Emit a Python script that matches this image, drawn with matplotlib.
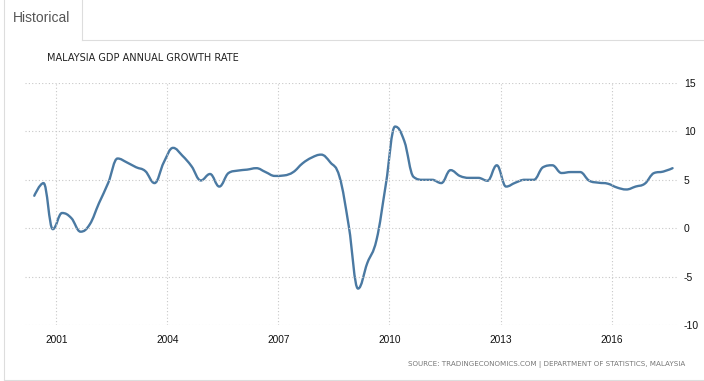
import numpy as np
import matplotlib
matplotlib.use('Agg')
import matplotlib.pyplot as plt
from matplotlib.path import Path
from matplotlib.patches import PathPatch
from matplotlib.lines import Line2D

# ------------------------
# data (quarterly)
# ------------------------
start_year = 2000.40
step = 0.25
growth = [3.35, 4.66, -0.1, 1.57, 1.05, -0.36, 0.4, 2.6, 4.7, 7.2,
          6.8, 6.3, 5.9, 4.66, 6.8, 8.3, 7.5, 6.4, 4.93, 5.6,
          4.3, 5.7, 5.95, 6.05, 6.2, 5.8, 5.4, 5.45, 5.8, 6.7,
          7.3, 7.6, 6.8, 5.3, 0.2, -6.24, -3.6, -1.2, 4.5, 10.5,
          9.0, 5.3, 5.0, 5.0, 4.66, 6.0, 5.4, 5.2, 5.2, 4.9,
          6.5, 4.3, 4.7, 5.0, 5.0, 6.3, 6.5, 5.7, 5.8, 5.8,
          4.9, 4.7, 4.6, 4.2, 4.0, 4.3, 4.6, 5.7, 5.85, 6.2]
dates = start_year + step * np.arange(len(growth))

xticks = [2001, 2004, 2007, 2010, 2013, 2016]
yticks = [-10, -5, 0, 5, 10, 15]

title = 'MALAYSIA GDP ANNUAL GROWTH RATE'
source = 'SOURCE: TRADINGECONOMICS.COM | DEPARTMENT OF STATISTICS, MALAYSIA'
line_color = '#4a79a2'
grid_color = '#c8c8c8'


def spline_path(x, y, smoothing=1.5):
    # highcharts-like smooth curve through every point (cubic bezier segments)
    n = len(x)
    lc = [(x[i], y[i]) for i in range(n)]
    rc = [(x[i], y[i]) for i in range(n)]
    d = smoothing + 1
    for i in range(1, n - 1):
        lx = (smoothing * x[i] + x[i - 1]) / d
        ly = (smoothing * y[i] + y[i - 1]) / d
        rx = (smoothing * x[i] + x[i + 1]) / d
        ry = (smoothing * y[i] + y[i + 1]) / d
        if rx != lx:
            corr = (ry - ly) * (rx - x[i]) / (rx - lx) + y[i] - ry
            ly += corr
            ry += corr
        if ly > max(y[i - 1], y[i]):
            ly = max(y[i - 1], y[i]); ry = 2 * y[i] - ly
        elif ly < min(y[i - 1], y[i]):
            ly = min(y[i - 1], y[i]); ry = 2 * y[i] - ly
        if ry > max(y[i], y[i + 1]):
            ry = max(y[i], y[i + 1]); ly = 2 * y[i] - ry
        elif ry < min(y[i], y[i + 1]):
            ry = min(y[i], y[i + 1]); ly = 2 * y[i] - ry
        lc[i] = (lx, ly)
        rc[i] = (rx, ry)
    verts = [(x[0], y[0])]
    codes = [Path.MOVETO]
    for i in range(1, n):
        verts += [rc[i - 1], lc[i], (x[i], y[i])]
        codes += [Path.CURVE4] * 3
    return Path(verts, codes)


fig = plt.figure(figsize=(7.04, 3.81), dpi=100)
ax = fig.add_axes([25 / 704, 1 - 325 / 381, 652 / 704, 242 / 381])

path = spline_path(list(dates), list(growth))
ax.add_patch(PathPatch(path, facecolor='none', edgecolor=line_color,
                       linewidth=1.7, capstyle='round', joinstyle='round'))

ax.set_xlim(2000.149, 2017.77)
ax.set_ylim(-10, 15)
ax.set_xticks(xticks)
ax.set_yticks(yticks)
ax.set_xticklabels([str(t) for t in xticks], fontsize=7.3, family='Liberation Sans')
ax.set_yticklabels([str(t) for t in yticks], fontsize=7.5, family='Liberation Sans')
ax.yaxis.tick_right()
ax.tick_params(axis='both', length=0, colors='#111111')
ax.tick_params(axis='x', pad=7)
ax.tick_params(axis='y', pad=5)
ax.grid(True, linestyle=(0, (1, 2)), color=grid_color, linewidth=0.8)
for s in ax.spines.values():
    s.set_visible(False)

# tab + panel border
bc = '#dddddd'
W, H = 704.0, 381.0
def fline(x0, y0, x1, y1):
    fig.add_artist(Line2D([x0 / W, x1 / W], [1 - y0 / H, 1 - y1 / H], color=bc, linewidth=0.8))
fline(3.5, 0, 3.5, 380)
fline(82, 0, 82, 39.5)
fline(82, 39.5, 704, 39.5)
fline(3.5, 380, 704, 380)
fig.text(13 / W, 1 - 18 / H, 'Historical', fontsize=10, color='#555555',
         family='Liberation Sans', va='center', ha='left')

fig.text(47 / W, 1 - 58 / H, title, fontsize=7.0, color='#222222', va='center', ha='left')
fig.text(685 / W, 1 - 365 / H, source, fontsize=5.1, color='#777777', va='center', ha='right')

fig.savefig('out.png', dpi=100)
